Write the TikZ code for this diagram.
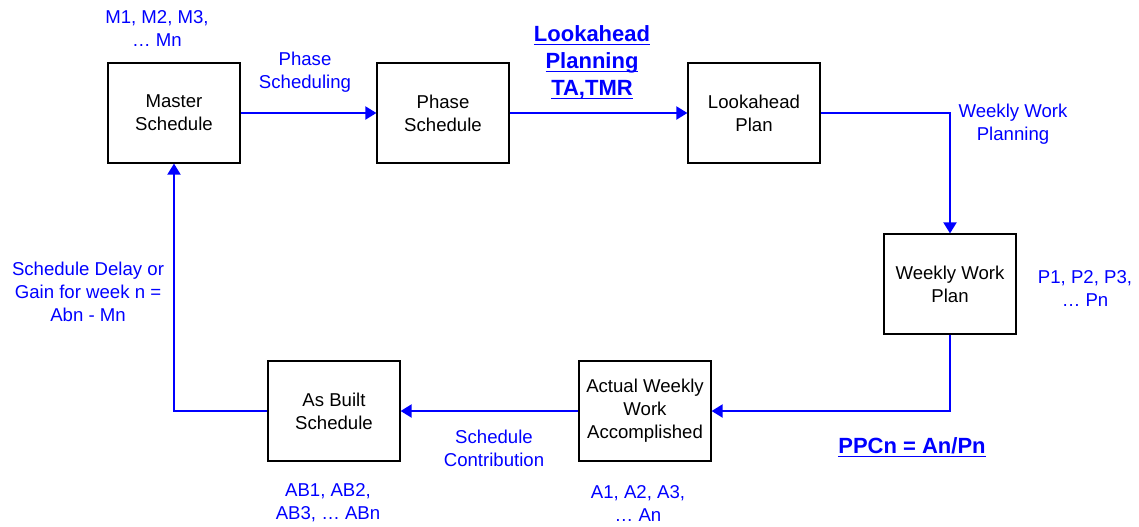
\documentclass[tikz,border=0pt]{standalone}
\usepackage{fontspec}
\setmainfont{Liberation Sans}
\usepackage{tikz}
\usetikzlibrary{arrows.meta, positioning}
\definecolor{flowblue}{HTML}{0000FF}
\newcommand{\keyline}[1]{\underline{\smash{#1}\vphantom{x}}}

\begin{document}
\begin{tikzpicture}[
  x=0.5pt, y=-0.5pt,
  every node/.style={font=\fontsize{9.3}{11.5}\selectfont},
  planbox/.style={
    rectangle, draw=black, line width=0.6pt,
    minimum width=66pt, minimum height=50pt,
    align=center, inner sep=1pt,
  },
  note/.style={text=flowblue, align=center, inner sep=0pt},
  keynote/.style={text=flowblue, align=center, inner sep=0pt,
    font=\fontsize{11}{13.5}\selectfont\bfseries},
  arrow/.style={-{Triangle[length=5.5pt,width=6.5pt]}, line width=1pt, color=flowblue},
]
\useasboundingbox (0,0) rectangle (1139,526);

\node[planbox] (master)  at (174,113) {Master\\Schedule};
\node[planbox] (phase)   at (443,113) {Phase\\Schedule};
\node[planbox] (look)    at (754,113) {Lookahead\\Plan};
\node[planbox] (weekly)  at (950,284) {Weekly Work\\Plan};
\node[planbox] (actual)  at (645,411) {Actual Weekly\\Work\\Accomplished};
\node[planbox] (asbuilt) at (334,411) {As Built\\Schedule};

% main cycle
\draw[arrow] (master) -- (phase);
\draw[arrow] (phase)  -- (look);
\draw[arrow] (look.east) -| (weekly.north);
\draw[arrow] (weekly.south) |- (actual.east);
\draw[arrow] (actual) -- (asbuilt);
\draw[arrow] (asbuilt.west) -| (master.south);

% labels
\node[note] (mlab)  at (157,28)  {M1, M2, M3,\\… Mn};
\node[note] (phlab) at (305,72)  {Phase\\Scheduling};
\node[keynote] (lalab) at (592,65) {\keyline{Lookahead}\\\keyline{Planning}\\\keyline{TA,TMR}};
\node[note] (wlab)  at (1013,124) {Weekly Work\\Planning};
\node[note] (plab)  at (1085,288) {P1, P2, P3,\\… Pn};
\node[keynote] (ppc) at (912,450) {\keyline{PPCn = An/Pn}};
\node[note] (alab)  at (638,503) {A1, A2, A3,\\… An};
\node[note] (sclab) at (494,448) {Schedule\\Contribution};
\node[note] (ablab) at (328,503) {AB1, AB2,\\AB3, … ABn};
\node[note] (dlab)  at (88,292)  {Schedule Delay or\\Gain for week n =\\Abn - Mn};

\end{tikzpicture}
\end{document}
